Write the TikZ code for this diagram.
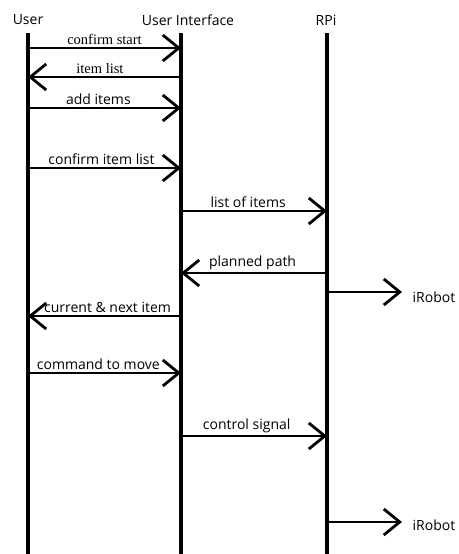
\documentclass[tikz,border=0pt]{standalone}
\usepackage{fontspec}
\setmainfont{Open Sans}
\newfontfamily\oldserif{Liberation Serif}
\usetikzlibrary{arrows.meta}

\tikzset{
  lifeline/.style={line width=3.2pt},
  msg/.style={line width=2.8pt, -{Straight Barb[length=16pt, width=26pt]}},
  actor/.style={font=\fontsize{14}{16}\selectfont, inner sep=0pt},
  lbl/.style={font=\fontsize{14}{16}\selectfont, inner sep=1.5pt},
  slbl/.style={font=\oldserif\fontsize{14.5}{16}\selectfont, inner sep=1.5pt}
}

\begin{document}
\begin{tikzpicture}[x=1pt, y=-1pt]
    \useasboundingbox (0,0) rectangle (458,554);

    % Actors
    \node[actor] (User) at (28,20) {User};
    \node[actor] (UI) at (188,20) {User Interface};
    \node[actor] (RPi) at (326,20) {RPi};

    % Lifelines
    \coordinate (Utop) at (28,33);   \coordinate (Ubot) at (28,556);
    \coordinate (Itop) at (181,33);  \coordinate (Ibot) at (181,556);
    \coordinate (Rtop) at (327,33);  \coordinate (Rbot) at (327,556);
    \draw[lifeline] (Utop) -- (Ubot);
    \draw[lifeline] (Itop) -- (Ibot);
    \draw[lifeline] (Rtop) -- (Rbot);

    % Message rows on the lifelines
    \foreach \n/\y in {1/48, 2/77, 3/108, 4/168, 5/211, 6/273, 7/292, 8/316, 9/373, 10/436, 11/522} {
        \coordinate (u\n) at (28,\y);
        \coordinate (i\n) at (181,\y);
        \coordinate (r\n) at (327,\y);
    }

    % User <-> User Interface
    \draw[msg] (u1) -- (i1) node[slbl, midway, above] {confirm start};
    \draw[msg] (i2) -- (u2) node[slbl, pos=0.53, above] {item list};
    \draw[msg] (u3) -- (i3) node[lbl, pos=0.46, above] {add items};
    \draw[msg] (u4) -- (i4) node[lbl, pos=0.48, above] {confirm item list};

    % User Interface <-> RPi
    \draw[msg] (i5) -- (r5) node[lbl, pos=0.46, above] {list of items};
    \draw[msg] (r6) -- (i6) node[lbl, pos=0.51, above] {planned path};

    % RPi -> iRobot
    \node[actor] (Robot1) at (434,297) {iRobot};
    \coordinate (Tip1) at (402,292);
    \draw[msg] (r7) -- (Tip1);

    % Back to the user
    \draw[msg] (i8) -- (u8) node[lbl, pos=0.48, above] {current \& next item};
    \draw[msg] (u9) -- (i9) node[lbl, pos=0.46, above] {command to move};

    % Control
    \draw[msg] (i10) -- (r10) node[lbl, pos=0.45, above] {control signal};

    % RPi -> iRobot
    \node[actor] (Robot2) at (434,525) {iRobot};
    \coordinate (Tip2) at (402,522);
    \draw[msg] (r11) -- (Tip2);

\end{tikzpicture}
\end{document}
